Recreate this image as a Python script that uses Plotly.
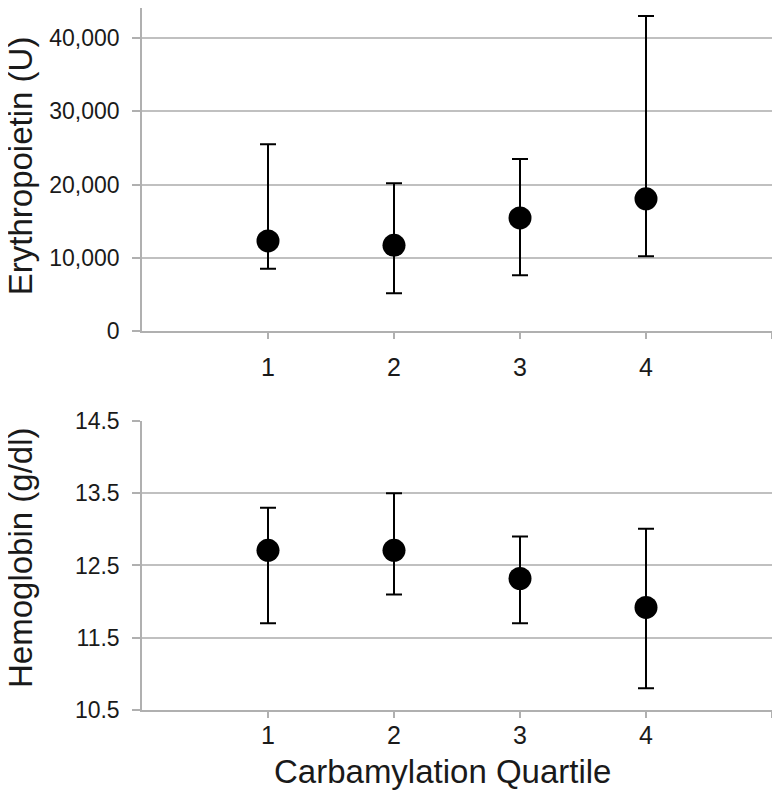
import plotly.graph_objects as go
from plotly.subplots import make_subplots

quartiles = [1, 2, 3, 4]
x_tick_vals = [1, 2, 3, 4, 5]
x_tick_text = ["1", "2", "3", "4", ""]

epo_median = [12300, 11700, 15450, 18050]
epo_upper = [25500, 20200, 23500, 43050]
epo_lower = [8500, 5150, 7600, 10200]

hb_median = [12.71, 12.71, 12.32, 11.92]
hb_upper = [13.30, 13.50, 12.90, 13.01]
hb_lower = [11.70, 12.10, 11.70, 10.80]

epo_ticks = [0, 10000, 20000, 30000, 40000]
epo_tick_text = ["0", "10,000", "20,000", "30,000", "40,000"]
hb_ticks = [10.5, 11.5, 12.5, 13.5, 14.5]
hb_tick_text = ["10.5", "11.5", "12.5", "13.5", "14.5"]

fig = make_subplots(rows=2, cols=1, shared_xaxes=False, vertical_spacing=0.1)

def add_series(row, med, up, lo):
    fig.add_trace(go.Scatter(
        x=quartiles, y=med, mode="markers",
        marker=dict(size=23, color="black"),
        error_y=dict(type="data", symmetric=False,
                     array=[u - m for u, m in zip(up, med)],
                     arrayminus=[m - l for m, l in zip(med, lo)],
                     color="black", thickness=2, width=8),
        showlegend=False, cliponaxis=False,
    ), row=row, col=1)

add_series(1, epo_median, epo_upper, epo_lower)
add_series(2, hb_median, hb_upper, hb_lower)

font_family = "Liberation Sans, Arial, sans-serif"
text_color = "#1a1a1a"
line_common = dict(showline=True, linecolor="#b0b0b0", linewidth=1.5,
                   ticks="outside", tickcolor="#b0b0b0", tickwidth=1.5,
                   automargin=False)

fig.update_xaxes(range=[0, 5], tickvals=x_tick_vals, ticktext=x_tick_text,
                 showgrid=False, zeroline=False, ticklen=6,
                 tickfont=dict(size=25, color=text_color, family=font_family),
                 **line_common)
fig.update_xaxes(row=1, col=1, ticklabelstandoff=7)
fig.update_xaxes(row=2, col=1, ticklabelstandoff=-4)

fig.update_yaxes(showgrid=True, gridcolor="#c0c0c0", gridwidth=1.5, zeroline=False,
                 ticklen=8, ticklabelstandoff=8,
                 tickfont=dict(size=23, color=text_color, family=font_family),
                 **line_common)

fig.update_yaxes(row=1, col=1, range=[0, 44126], tickvals=epo_ticks, ticktext=epo_tick_text,
                 domain=[0.5399, 1.0])
fig.update_yaxes(row=2, col=1, range=[10.5, 14.5], tickvals=hb_ticks, ticktext=hb_tick_text,
                 domain=[0.0, 0.4117])

title_font = dict(size=33, color=text_color, family=font_family)
fig.add_annotation(text="Erythropoietin (U)", xref="paper", yref="paper",
                   x=-0.1937, y=0.776, xanchor="center", yanchor="middle",
                   textangle=-90, showarrow=False, font=title_font)
fig.add_annotation(text="Hemoglobin (g/dl)", xref="paper", yref="paper",
                   x=-0.1937, y=0.2165, xanchor="center", yanchor="middle",
                   textangle=-90, showarrow=False, font=title_font)
fig.add_annotation(text="Carbamylation Quartile", xref="paper", yref="paper",
                   x=0.477, y=-0.088, xanchor="center", yanchor="middle", showarrow=False,
                   font=title_font)

fig.update_layout(width=780, height=795,
                  margin=dict(l=134, r=16, t=0, b=93, autoexpand=False),
                  plot_bgcolor="white", paper_bgcolor="white",
                  font=dict(family=font_family))

fig.write_html("out.html")
